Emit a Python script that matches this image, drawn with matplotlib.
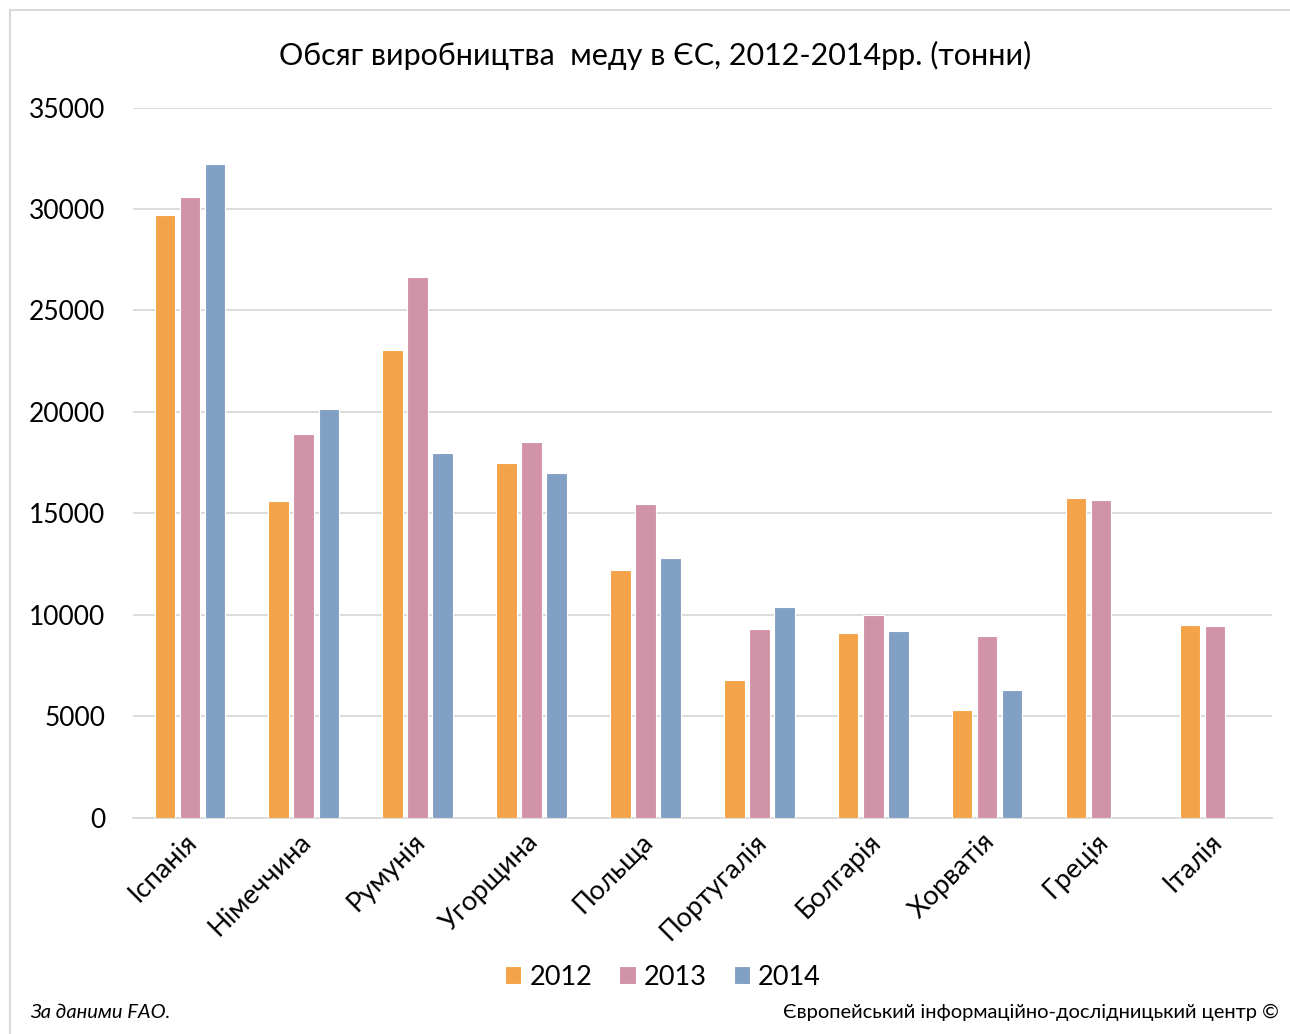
import numpy as np
import matplotlib.pyplot as plt
from matplotlib.patches import Rectangle

countries = ['Іспанія', 'Німеччина', 'Румунія', 'Угорщина', 'Польща',
             'Португалія', 'Болгарія', 'Хорватія', 'Греція', 'Італія']
v2012 = [29700, 15600, 23050, 17500, 12200, 6800, 9130, 5330, 15750, 9510]
v2013 = [30600, 18930, 26660, 18500, 15470, 9330, 10020, 8970, 15640, 9460]
v2014 = [32200, 20130, 17980, 17000, 12800, 10410, 9210, 6280, np.nan, np.nan]

plt.rcParams['font.family'] = ['Lato', 'DejaVu Sans']

fig = plt.figure(figsize=(12.9, 10.34), dpi=100)
ax = fig.add_axes([0.103, 0.209, 0.883, 0.687])

x = np.arange(len(countries))
w = 0.18
step = 0.22
ax.bar(x - step, v2012, w, color='#F4A448', edgecolor='white', linewidth=0.8, label='2012', zorder=3)
ax.bar(x, v2013, w, color='#D193A7', edgecolor='white', linewidth=0.8, label='2013', zorder=3)
ax.bar(x + step, v2014, w, color='#82A0C4', edgecolor='white', linewidth=0.8, label='2014', zorder=3)

ax.set_xlim(-0.5, len(countries) - 0.5)
ax.set_ylim(0, 35000)
ax.set_yticks(range(0, 35001, 5000))
ax.tick_params(axis='y', labelsize=19, length=0, pad=20)
ax.tick_params(axis='x', labelsize=19.5, length=0, pad=8)
ax.set_xticks(x - 0.05)
ax.set_xticklabels(countries, rotation=45, ha='right', va='top', rotation_mode='anchor')
ax.grid(axis='y', color='#D9D9D9', linewidth=1.3, zorder=0)
for s in ['top', 'right', 'left']:
    ax.spines[s].set_visible(False)
ax.spines['bottom'].set_color('#D9D9D9')
ax.spines['bottom'].set_linewidth(1.3)

fig.text(0.508, 0.946, 'Обсяг виробництва  меду в ЄС, 2012-2014рр. (тонни)',
         ha='center', va='center', fontsize=22)

fig.legend(loc='center', bbox_to_anchor=(0.514, 0.055), ncol=3, frameon=False,
           fontsize=19.5, handlelength=0.6, handleheight=0.6, handletextpad=0.3,
           columnspacing=1.0)

fig.text(0.023, 0.021, 'За даними FAO.', ha='left', va='center', fontsize=14.5, style='italic')
fig.text(0.991, 0.021, 'Європейський інформаційно-дослідницький центр ©',
         ha='right', va='center', fontsize=14.5)

fig.patches.append(Rectangle((0.008, -0.01), 1.2, 1.0, transform=fig.transFigure,
                             fill=False, edgecolor='#D9D9D9', linewidth=1.5))

fig.savefig('out.png', dpi=100)
